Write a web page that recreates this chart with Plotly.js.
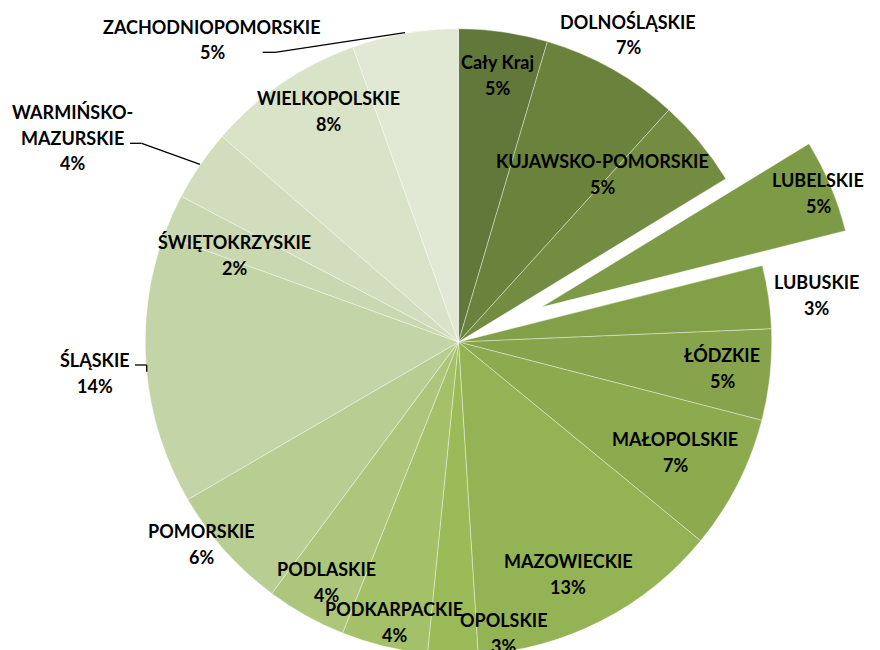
<!DOCTYPE html>
<html>
<head>
<meta charset="utf-8">
<script src="https://cdn.plot.ly/plotly-3.0.1.min.js"></script>
<style>
  html, body { margin: 0; padding: 0; overflow: hidden; background: #fff; }
  #chart { position: absolute; left: 0; top: -70px; width: 880px; height: 820px; }
</style>
</head>
<body>
<div id="chart"></div>
<script>
// ---- data ----
const regions = ['Cały Kraj', 'DOLNOŚLĄSKIE', 'KUJAWSKO-POMORSKIE', 'LUBELSKIE', 'LUBUSKIE',
  'ŁÓDZKIE', 'MAŁOPOLSKIE', 'MAZOWIECKIE', 'OPOLSKIE', 'PODKARPACKIE', 'PODLASKIE',
  'POMORSKIE', 'ŚLĄSKIE', 'ŚWIĘTOKRZYSKIE', 'WARMIŃSKO-MAZURSKIE', 'WIELKOPOLSKIE',
  'ZACHODNIOPOMORSKIE'];
const shares = [4.58, 7.14, 4.55, 4.81, 3.25, 4.69, 6.92, 13.06, 2.58, 4.45, 4.14,
  6.44, 13.92, 2.17, 3.69, 8.14, 5.47];

// ---- styling ----
const sliceColors = ['#62773A', '#6A823C', '#738C41', '#7D9A46', '#82A048', '#87A34B',
  '#8CAA4E', '#94B354', '#9BBB59', '#A4C068', '#AEC67B', '#B8CD91', '#C3D4A6',
  '#C9D8B0', '#D1DDBC', '#D9E3C8', '#E1E8D3'];
const pulls = [0, 0, 0, 0.288, 0, 0, 0, 0, 0, 0, 0, 0, 0, 0, 0, 0, 0];

// label placement (screen px of the centre of the first text line)
const labelX = [497, 628, 602, 818, 816, 722, 675, 568, 503, 394, 326, 201, 95, 234, 72, 328, 212];
const labelY = [62, 22, 161, 180, 282, 355, 439, 561, 620, 609, 569, 531, 360, 242, 112, 98, 27];
const wrapAtHyphen = [false, false, false, false, false, false, false, false, false, false, false,
  false, false, false, true, false, false];
const leaders = [
  [[262.7, 52.3], [275, 52.3], [405, 32.7]],
  [[130, 143.3], [141.7, 143.3], [200, 164.3]],
  [[135, 365], [146.7, 365], [146.7, 371.7]]
];

const W = 880, H = 820, OFF = 70;
const M = {l: 55, r: 18, t: 8, b: 4};
const pw = W - M.l - M.r, ph = H - M.t - M.b;
const toX = x => (x - M.l) / pw;
const toY = y => 1 - ((y + OFF) - M.t) / ph;

const total = shares.reduce((a, b) => a + b, 0);
const LINE = 25.5;
const font = {family: 'Lato, "Open Sans", sans-serif', size: 18, color: '#000'};

const annotations = [];
regions.forEach((name, i) => {
  let lines = wrapAtHyphen[i] ? [name.slice(0, name.indexOf('-') + 1), name.slice(name.indexOf('-') + 1)] : [name];
  lines.push(Math.round(shares[i] / total * 100) + '%');
  lines.forEach((t, k) => {
    annotations.push({
      xref: 'paper', yref: 'paper', x: toX(labelX[i]), y: toY(labelY[i] + k * LINE),
      xanchor: 'center', yanchor: 'middle', showarrow: false,
      text: '<b>' + t + '</b>', font: font
    });
  });
});

const shapes = [];
leaders.forEach(pts => {
  for (let k = 0; k < pts.length - 1; k++) {
    shapes.push({type: 'line', xref: 'paper', yref: 'paper',
      x0: toX(pts[k][0]), y0: toY(pts[k][1]), x1: toX(pts[k + 1][0]), y1: toY(pts[k + 1][1]),
      line: {color: '#000', width: 1.3}});
  }
});

const trace = {
  type: 'pie',
  labels: regions,
  values: shares,
  sort: false,
  direction: 'clockwise',
  rotation: 0,
  pull: pulls,
  textinfo: 'none',
  hoverinfo: 'label+percent',
  marker: {colors: sliceColors, line: {color: 'rgba(255,255,255,0.55)', width: 0.7}},
  domain: {x: [0, 1], y: [0, 1]}
};

Plotly.newPlot('chart', [trace], {
  width: W, height: H,
  margin: M,
  showlegend: false,
  paper_bgcolor: '#fff',
  annotations: annotations,
  shapes: shapes
}, {displayModeBar: false, staticPlot: true});
</script>
</body>
</html>
